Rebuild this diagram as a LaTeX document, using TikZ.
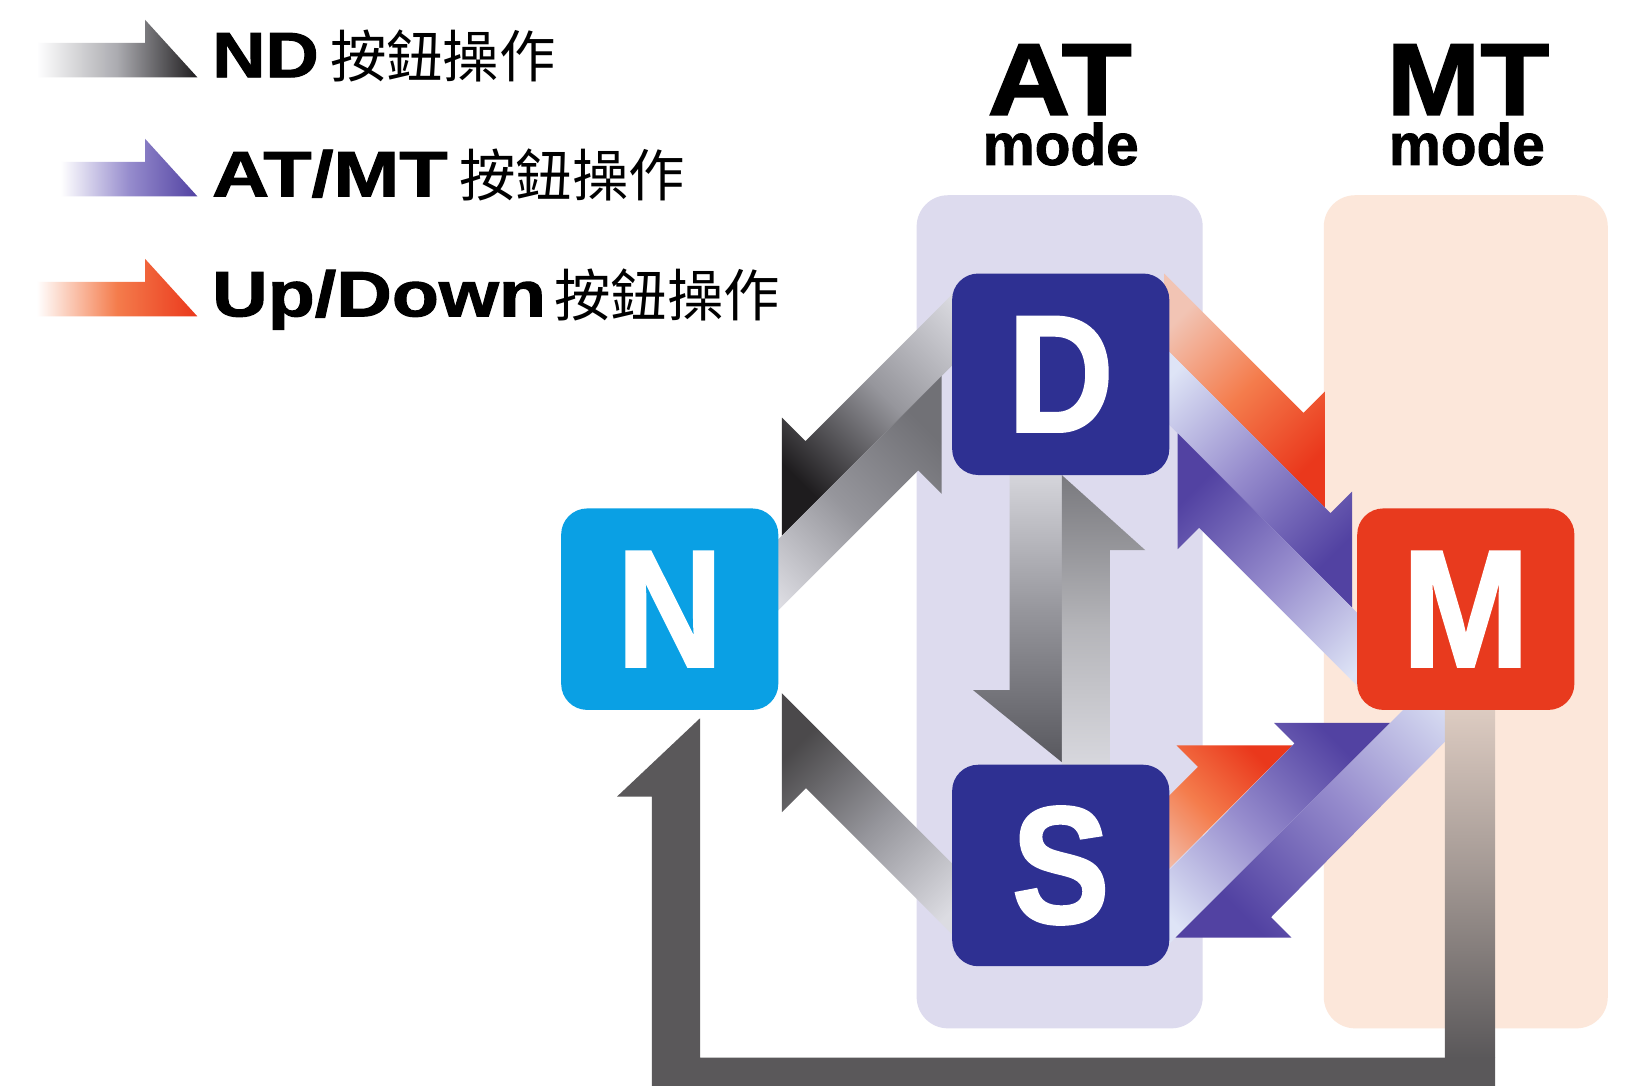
\documentclass[tikz,border=0pt]{standalone}
\usepackage{fontspec}
\usepackage{graphicx}
\newfontfamily\heavy{Liberation Sans}[BoldFeatures={FakeBold=1.5}]
\newfontfamily\cjk{Noto Sans CJK TC}
\definecolor{navy}{RGB}{46,48,146}
\definecolor{ncyan}{RGB}{10,160,228}
\definecolor{mred}{RGB}{232,58,30}
\definecolor{atband}{RGB}{221,219,238}
\definecolor{mtband}{RGB}{252,231,218}
\definecolor{loopgray}{RGB}{90,88,90}
\definecolor{gtail}{RGB}{220,220,226}
\definecolor{gmid}{RGB}{150,150,156}
\definecolor{ghead}{RGB}{88,88,94}
\definecolor{gdark}{RGB}{30,28,30}
\definecolor{ptail}{RGB}{222,228,246}
\definecolor{pmid}{RGB}{150,140,205}
\definecolor{phead}{RGB}{82,66,162}
\definecolor{otail}{RGB}{242,196,180}
\definecolor{omid}{RGB}{244,124,76}
\definecolor{ohead}{RGB}{234,56,28}
\newcommand\legtxt[2]{\scalebox{#1}[1]{\heavy\bfseries\fontsize{61.5}{62}\selectfont #2}}
\newcommand\cjtxt[1]{{\cjk\fontsize{54}{56}\selectfont #1}}
\tikzset{
  box/.style={rounded corners=25pt, minimum width=208pt, minimum height=193pt,
    inner sep=0pt, text=white, font=\heavy\bfseries\fontsize{160}{160}\selectfont},
  band/.style={rounded corners=30pt},
  harp/.style n args={4}{bottom color=#1, top color=#3, middle color=#2, shading angle=#4},
  lbl/.style={inner sep=0pt},
  title/.style={inner sep=0pt, anchor=base, text height=70pt, text depth=0pt},
  modelbl/.style={inner sep=0pt, anchor=base, text height=40pt, text depth=0pt,
    font=\heavy\bfseries\fontsize{56}{56}\selectfont},
}
\begin{document}
\begin{tikzpicture}[x=1pt,y=-1pt]
\useasboundingbox (0,0) rectangle (1568,1040);
\clip (0,0) rectangle (1568,1040);
\fill[white] (0,0) rectangle (1568,1040);

% mode bands
\fill[atband, band] (878,187) rectangle (1152,985);
\fill[mtband, band] (1268,187) rectangle (1540,985);

% legend arrows
\shade[harp={white}{gmid!80!white}{gdark}{-90}] (35,41) -- (139,41) -- (139,19) -- (189,74) -- (35,74) -- cycle;
\shade[harp={white}{pmid}{phead}{-90}] (58,155) -- (139,155) -- (139,133) -- (189,188) -- (58,188) -- cycle;
\shade[harp={white}{omid}{ohead}{-90}] (35,270) -- (139,270) -- (139,248) -- (189,303) -- (35,303) -- cycle;

% legend texts
\node[lbl, anchor=base west] (l1) at (203,74) {\legtxt{1.15}{ND}};
\node[lbl, anchor=base west] (c1) at (316,74) {\cjtxt{按鈕操作}};
\node[lbl, anchor=base west] (l2) at (203,188) {\legtxt{1.23}{AT/MT}};
\node[lbl, anchor=base west] (c2) at (440,188) {\cjtxt{按鈕操作}};
\node[lbl, anchor=base west] (l3) at (203,303) {\legtxt{1.2}{Up/Down}};
\node[lbl, anchor=base west] (c3) at (531,303) {\cjtxt{按鈕操作}};

% mode titles
\node[title] (atl) at (1015,110) {\scalebox{1.12}[1]{\heavy\bfseries\fontsize{98}{98}\selectfont AT}};
\node[modelbl] (atm) at (1016,158) {mode};
\node[title] (mtl) at (1406,110) {\scalebox{1.1}[1]{\heavy\bfseries\fontsize{98}{98}\selectfont MT}};
\node[modelbl] (mtm) at (1405,158) {mode};

% ND (gray) arrows
% D -> N
\shade[harp={gtail}{gmid}{gdark}{135}] (749,513) -- (749,400) -- (771.5,422.5) -- (930,264) -- (964,298) -- cycle;
% N -> D
\shade[harp={gtail}{gmid}{ghead!85!white}{-45}] (902,360) -- (902,473) -- (879.5,450.5) -- (734,596) -- (700,562) -- cycle;
% S -> N
\shade[harp={gtail}{gmid}{gdark!80!white}{45}] (749,664) -- (950,865) -- (916,899) -- (772,755) -- (749,778) -- cycle;
% D -> S
\shade[harp={gtail}{gmid}{ghead}{180}] (967,440) -- (967,661) -- (932,661) -- (1017,730) -- (1017,440) -- cycle;
% S -> D
\shade[harp={gtail}{gmid!70!white}{ghead!80!white}{0}] (1017,750) -- (1017,455) -- (1097,527) -- (1063,527) -- (1063,750) -- cycle;

% Up/Down (orange) arrows
% D -> M
\shade[harp={otail}{omid}{ohead}{225}] (1269,486) -- (1269,375) -- (1248.5,395.5) -- (1115,262) -- (1115,332) -- cycle;
% S -> M
\shade[harp={otail}{omid}{ohead}{-45}] (1238,714) -- (1127,714) -- (1147.5,734.5) -- (1075,807) -- (1110,842) -- cycle;

% AT/MT (purple) arrows
% D -> M
\shade[harp={ptail}{pmid}{phead}{225}] (1295,582) -- (1295,471) -- (1274.5,491.5) -- (1115,332) -- (1080,367) -- cycle;
% M -> D
\shade[harp={ptail}{pmid}{phead}{45}] (1128,415) -- (1345,632) -- (1310,667) -- (1148.5,505.5) -- (1128,526) -- cycle;
% S -> M
\shade[harp={ptail}{pmid}{phead}{-45}] (1331.5,692.5) -- (1220.5,692.5) -- (1240,712) -- (1080,874) -- (1115,909) -- cycle;
% M -> S
\shade[harp={ptail}{pmid}{phead}{135}] (1126,898) -- (1400,624) -- (1435,659) -- (1217.5,878.5) -- (1237,898) -- cycle;

% ND loop M -> N
\shade[top color=mtband!85!loopgray, bottom color=loopgray, middle color=loopgray!55!mtband] (1384,660) rectangle (1432,1013);
\fill[loopgray] (670.5,688) -- (670.5,1013) -- (1432,1013) -- (1432,1061) -- (624.5,1061) -- (624.5,763) -- (591,763) -- cycle;

% gear boxes
\node[box, fill=navy]  (D) at (1016,358.5) {\scalebox{0.88}[1]{D}};
\node[box, fill=ncyan] (N) at (641.5,583.5) {\scalebox{0.88}[1]{N}};
\node[box, fill=mred]  (M) at (1404,583.5) {\scalebox{0.92}[1]{M}};
\node[box, fill=navy]  (S) at (1016,829) {\scalebox{0.88}[1]{S}};
\end{tikzpicture}
\end{document}
